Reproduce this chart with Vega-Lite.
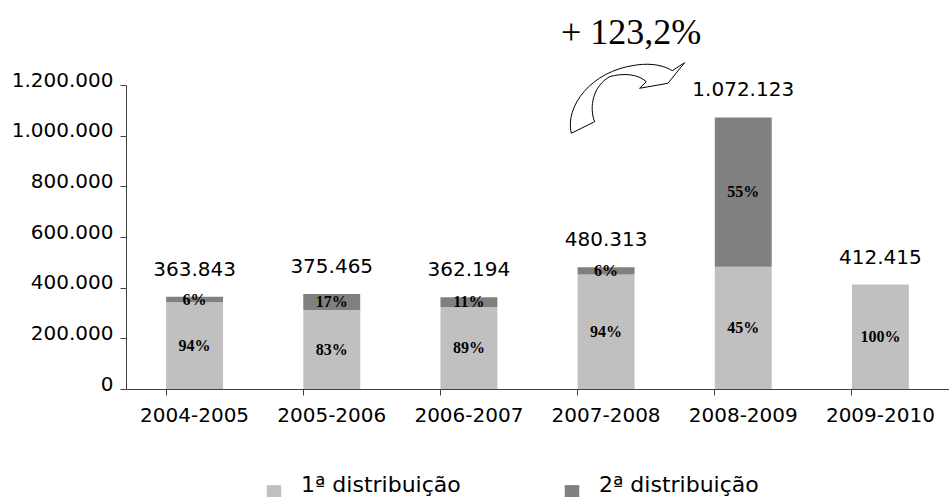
{
  "$schema": "https://vega.github.io/schema/vega-lite/v6.json",
  "width": 823,
  "height": 304,
  "autosize": {"type": "none"},
  "padding": {"left": 126, "top": 85, "right": 0, "bottom": 108},
  "background": "white",
  "config": {
    "view": {"stroke": null},
    "locale": {"number": {"decimal": ",", "thousands": ".", "grouping": [3], "currency": ["", ""]}},
    "axis": {
      "domainColor": "#404040",
      "tickColor": "#404040",
      "labelColor": "#000000",
      "labelFont": "DejaVu Sans",
      "labelFontSize": 20,
      "grid": false,
      "title": null
    },
    "legend": {
      "labelFont": "DejaVu Sans",
      "labelFontSize": 22,
      "labelColor": "#000000"
    }
  },
  "data": {
    "values": [
      {"period": "2004-2005", "dist": "1ª distribuição", "value": 342012, "pct": "94%"},
      {"period": "2004-2005", "dist": "2ª distribuição", "value": 21831, "pct": "6%"},
      {"period": "2005-2006", "dist": "1ª distribuição", "value": 311636, "pct": "83%"},
      {"period": "2005-2006", "dist": "2ª distribuição", "value": 63829, "pct": "17%"},
      {"period": "2006-2007", "dist": "1ª distribuição", "value": 322353, "pct": "89%"},
      {"period": "2006-2007", "dist": "2ª distribuição", "value": 39841, "pct": "11%"},
      {"period": "2007-2008", "dist": "1ª distribuição", "value": 451494, "pct": "94%"},
      {"period": "2007-2008", "dist": "2ª distribuição", "value": 28819, "pct": "6%"},
      {"period": "2008-2009", "dist": "1ª distribuição", "value": 482455, "pct": "45%"},
      {"period": "2008-2009", "dist": "2ª distribuição", "value": 589668, "pct": "55%"},
      {"period": "2009-2010", "dist": "1ª distribuição", "value": 412415, "pct": "100%"}
    ]
  },
  "layer": [
    {
      "mark": {"type": "bar"},
      "encoding": {
        "x": {
          "field": "period", "type": "nominal", "sort": null,
          "scale": {"paddingInner": 0.585, "paddingOuter": 0.2925},
          "axis": {"labelAngle": 0, "bandPosition": 0, "tickSize": 6, "labelPadding": 10}
        },
        "y": {
          "field": "value", "type": "quantitative", "stack": "zero",
          "scale": {"domain": [0, 1200000], "nice": false},
          "axis": {"values": [0, 200000, 400000, 600000, 800000, 1000000, 1200000], "format": ",d", "tickSize": 6, "labelPadding": 7, "labelBaseline": "alphabetic", "labelOffset": 1}
        },
        "color": {
          "field": "dist", "type": "nominal",
          "scale": {"domain": ["1ª distribuição", "2ª distribuição"], "range": ["#c0c0c0", "#808080"]},
          "legend": {"title": null, "orient": "none", "legendX": 137, "legendY": 396, "direction": "horizontal", "symbolType": "square", "symbolSize": 210, "symbolStrokeWidth": 0, "labelOffset": 16, "labelBaseline": "alphabetic", "columnPadding": 100}
        },
        "order": {"field": "dist", "sort": "ascending"}
      }
    },
    {
      "mark": {"type": "text", "font": "Liberation Serif", "fontWeight": "bold", "fontSize": 16, "baseline": "middle", "color": "#000000"},
      "encoding": {
        "x": {"field": "period", "type": "nominal", "sort": null},
        "y": {"field": "value", "type": "quantitative", "stack": "zero", "bandPosition": 0.5},
        "detail": {"field": "dist"},
        "order": {"field": "dist", "sort": "ascending"},
        "text": {"field": "pct"}
      }
    },
    {
      "mark": {"type": "text", "font": "DejaVu Sans", "fontSize": 20, "baseline": "middle", "dy": -27, "color": "#000000"},
      "encoding": {
        "x": {"field": "period", "type": "nominal", "sort": null},
        "y": {"aggregate": "sum", "field": "value", "type": "quantitative"},
        "text": {"aggregate": "sum", "field": "value", "format": ",d"}
      }
    },
    {
      "data": {"values": [{}]},
      "mark": {"type": "text", "text": "+ 123,2%", "font": "Liberation Serif", "fontSize": 36, "baseline": "middle", "xOffset": 25, "color": "#000000"},
      "encoding": {
        "x": {"datum": "2007-2008", "type": "nominal"},
        "y": {"datum": 1405000, "type": "quantitative"}
      }
    },
    {
      "data": {"values": [{}]},
      "mark": {
        "type": "point",
        "shape": "M -0.913 0.588 C -1.02 0.15 -0.6 -0.45 0.17 -0.55 C 0.45 -0.59 0.65 -0.53 0.77 -0.455 L 0.975 -0.588 L 0.697 -0.245 L 0.225 -0.162 L 0.337 -0.272 C 0.2 -0.4 -0.05 -0.42 -0.275 -0.355 C -0.55 -0.2 -0.62 0.15 -0.525 0.395 Z",
        "size": 14400,
        "filled": true,
        "fill": "white",
        "stroke": "black",
        "strokeWidth": 1,
        "opacity": 1,
        "xOffset": 20
      },
      "encoding": {
        "x": {"datum": "2007-2008", "type": "nominal"},
        "y": {"datum": 1148700, "type": "quantitative"}
      }
    }
  ]
}
